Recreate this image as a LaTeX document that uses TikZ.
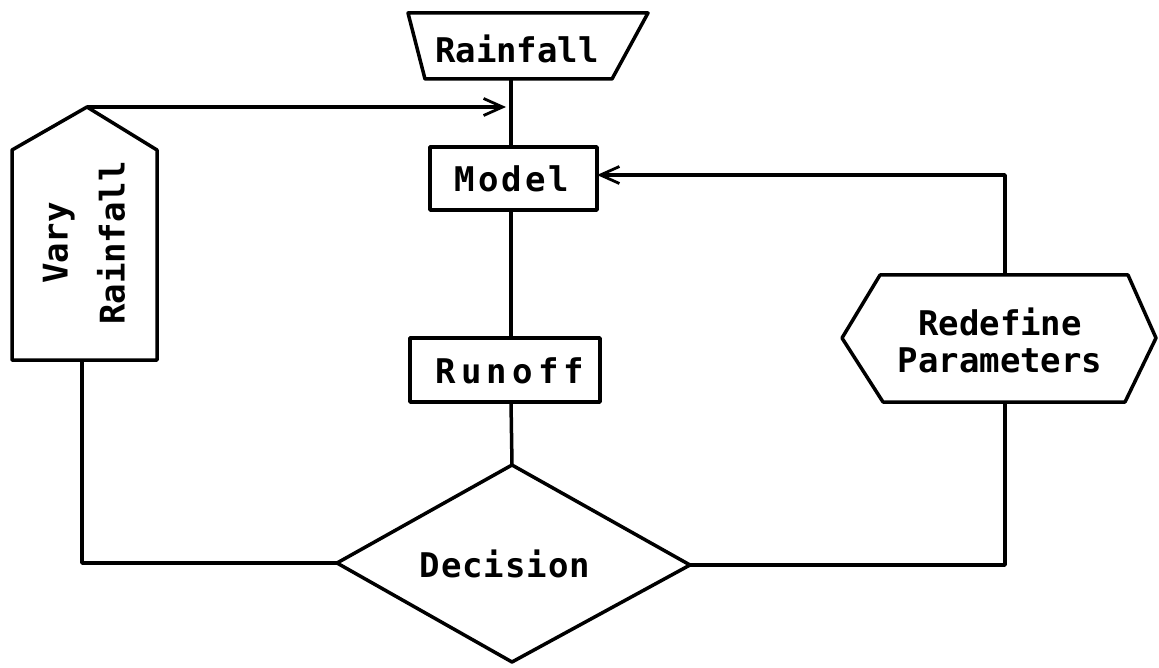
\documentclass[tikz,border=0pt]{standalone}
\usepackage{fontspec}
\setmainfont{DejaVu Sans Mono}
\usetikzlibrary{arrows.meta}
\tikzset{
  outline/.style={line width=3.5pt, line join=round, line cap=round},
  flow/.style={line width=3.5pt, line join=round},
  arrowflow/.style={flow, -{Straight Barb[length=19pt,width=17pt,line width=2.8pt]}},
  label/.style={inner sep=0pt, font=\fontsize{34}{37}\selectfont\bfseries, align=center},
}
\begin{document}
\begin{tikzpicture}[x=1pt,y=-1pt]
\useasboundingbox (0,0) rectangle (1159,668);

% Rainfall (manual input trapezium)
\draw[outline] (408,13) -- (648,13) -- (612,79) -- (425,79) -- cycle;
\node[label] (rain) at (517,49) {Rainfall};
\coordinate (rainS) at (511,79);

% Model box
\draw[outline] (430,147) rectangle (597,210);
\node[label] (model) at (512,179) {\addfontfeature{LetterSpace=9}Model};
\coordinate (modelN) at (511,147);
\coordinate (modelS) at (511,210);
\coordinate (modelE) at (597,175);

% Runoff box
\draw[outline] (410,338) rectangle (600,402);
\node[label] (runoff) at (510,371) {\addfontfeature{LetterSpace=15}Runoff};
\coordinate (runoffN) at (511,338);
\coordinate (runoffS) at (511,402);

% Decision diamond
\draw[outline] (512,465) -- (690,565) -- (512,662) -- (337,563) -- cycle;
\node[label] (decision) at (505,564) {\addfontfeature{LetterSpace=3}Decision};
\coordinate (decN) at (512,465);
\coordinate (decW) at (337,563);
\coordinate (decE) at (690,565);

% Vary Rainfall (pentagon pointing up)
\draw[outline] (87,107) -- (157,150) -- (157,360) -- (12,360) -- (12,150) -- cycle;
\node[label, rotate=90] (vary) at (84,243)
  {Vary\\[20pt]Rainfall};
\coordinate (varyN) at (87,107);
\coordinate (varyS) at (82,360);

% Redefine Parameters (hexagon)
\draw[outline] (842,338) -- (880,275) -- (1128,275) -- (1156,338) -- (1125,402) -- (883,402) -- cycle;
\node[label] (redef) at (1000,340) {Redefine\\Parameters};
\coordinate (redefN) at (1005,275);
\coordinate (redefS) at (1005,402);

% junctions and corners
\coordinate (join) at (511,107);
\coordinate (cornerL) at (82,563);
\coordinate (cornerR) at (1005,565);
\coordinate (cornerTR) at (1005,175);

% connectors
\draw[flow] (rainS) -- (modelN);
\draw[flow] (modelS) -- (runoffN);
\draw[flow] (runoffS) -- (decN);
\draw[arrowflow, shorten >=5pt] (varyN) -- (join);
\draw[flow] (varyS) -- (cornerL) -- (decW);
\draw[flow] (decE) -- (cornerR) -- (redefS);
\draw[arrowflow] (redefN) -- (cornerTR) -- (modelE);
\end{tikzpicture}
\end{document}
